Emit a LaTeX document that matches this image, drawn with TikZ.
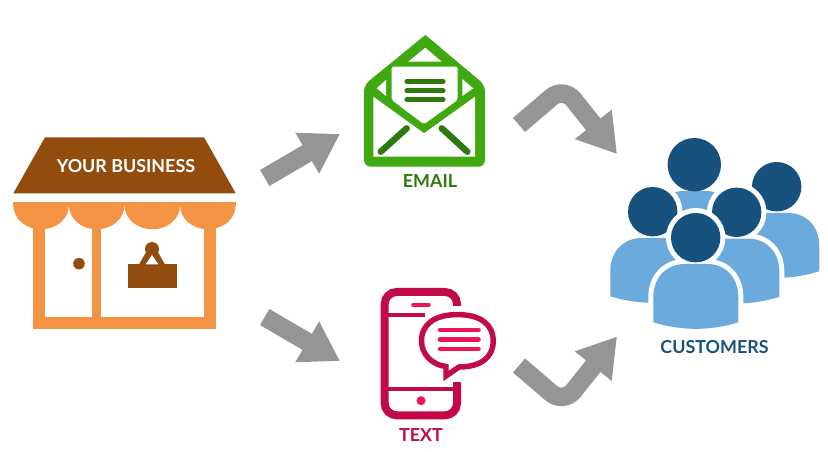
\documentclass[tikz,border=0pt]{standalone}
\usepackage{fontspec}
\setmainfont{Lato}
\usetikzlibrary{arrows.meta, positioning, calc}
\definecolor{shopbrown}{HTML}{924D0E}
\definecolor{shoporange}{HTML}{F59344}
\definecolor{mailgreen}{HTML}{3FA90F}
\definecolor{maildark}{HTML}{2B7A0B}
\definecolor{phonered}{HTML}{C2094B}
\definecolor{phonepink}{HTML}{EE1556}
\definecolor{crowddark}{HTML}{17527F}
\definecolor{crowdlight}{HTML}{6AAADC}
\definecolor{flowgray}{HTML}{959595}
\tikzset{
  flowarrow/.style={draw=flowgray, line width=13.9pt, rounded corners=12pt,
    -{Triangle[length=28.5pt,width=33.4pt]}, flowgray},
  iconlabel/.style={font=\bfseries\fontsize{13.4}{15}\selectfont},
  halo/.style={draw=white, line width=7.5pt}
}

\begin{document}
\begin{tikzpicture}[x=0.75pt,y=-0.75pt]
  \useasboundingbox (0,0) rectangle (828,452);

  % Shop roof
  \fill[shopbrown] (45,137.3) -- (204,137.3) -- (235.7,193.3) -- (13.3,193.3) -- cycle;
  \node[iconlabel, text=white] (business) at (126,166.5) {YOUR BUSINESS};

  % Shop awning
  \fill[shoporange] (13.3,201.7) rectangle (235.7,206);
  \foreach \sx in {0,55.6,111.2,166.8} {
    \fill[shoporange, xshift=\sx*0.75pt] (13.3,205) .. controls (13.3,219) and (26,229.3) .. (41.1,229.3)
      .. controls (56.2,229.3) and (68.9,219) .. (68.9,205) -- cycle;
  }

  % Shop walls
  \fill[shoporange] (32.7,222) rectangle (45,329.3);
  \fill[shoporange] (92.3,226) rectangle (100.7,329.3);
  \fill[shoporange] (204,222) rectangle (216,329.3);
  \fill[shoporange] (32.7,317.3) rectangle (216,329.3);

  % Door knob and sign
  \fill[shopbrown] (79,263.7) circle (5.8);
  \fill[shopbrown] (127.7,264.3) rectangle (176.7,287.7);
  \fill[shopbrown] (152,249) circle (7);
  \fill[shopbrown] (139,264.5) -- (149,247) -- (155,247) -- (165,264.5) -- cycle;
  \fill[white] (145.7,264.3) -- (158.3,264.3) -- (152,255) -- cycle;

  % Envelope
  \fill[mailgreen, rounded corners=5pt] (425.3,35) -- (485,85) -- (485,166.7) -- (364,166.7) -- (364,85) -- cycle;
  \fill[mailgreen] (425.3,35) -- (441,48) -- (410,48) -- cycle;
  \fill[white] (425.3,47.7) -- (441.7,61.7) -- (408.3,61.7) -- cycle;
  \fill[white] (386,80) -- (386,96) -- (376.7,88.3) -- cycle;
  \fill[white] (462.3,79) -- (462.3,96) -- (473.3,88.3) -- cycle;
  \fill[white, rounded corners=1.5pt] (391.7,66.7) -- (457.7,66.7) -- (457.7,100) -- (424,124.3) -- (391.7,100) -- cycle;
  \fill[white] (373.3,96.7) -- (424,133.3) -- (475,96.7) -- (475,156.7) -- (373.3,156.7) -- cycle;

  % Letter lines
  \foreach \ly in {81.7,90.7,99.7} {
    \draw[maildark, line width=3.4pt, line cap=round] (406.7,\ly) -- (443.3,\ly);
  }
  \draw[maildark, line width=4.8pt, line cap=round] (406.7,128.3) -- (380.7,151.7);
  \draw[maildark, line width=4.8pt, line cap=round] (441.7,128.3) -- (467.3,151.7);
  \node[iconlabel, text=maildark] (email) at (430,181.5) {EMAIL};

  % Phone
  \draw[phonered, line width=6pt, rounded corners=9pt] (384.7,292) rectangle (457,415.3);
  \fill[white] (450,306) rectangle (465,381.5);
  \draw[phonered, line width=3pt] (388,315.3) -- (425,315.3);
  \draw[phonered, line width=3pt] (388,389) -- (453,389);
  \draw[phonepink, line width=2.6pt, line cap=round] (413,305) -- (429,305);
  \fill[phonepink] (421,400.7) circle (4.5);

  % Speech bubble
  \draw[phonered, line width=4.1pt, fill=white, preaction={draw=white, line width=9pt}]
    (459,367) .. controls (480,367) and (493.2,358) .. (493.2,341)
    .. controls (493.2,324) and (480,314.6) .. (457.4,314.6)
    .. controls (435,314.6) and (421.5,324) .. (421.5,341)
    .. controls (421.5,354) and (432,365) .. (446,366.5) -- (446,376) -- cycle;
  \foreach \ly in {330,339.3,349} {
    \draw[phonepink, line width=3.4pt, line cap=round] (440,\ly) -- (478.5,\ly);
  }
  \node[iconlabel, text=phonered] (textmsg) at (421,435) {TEXT};

  % Customers, back to front
  \foreach \dx/\dy/\rad in {-1.4/-73/26.7, 81/-51/24.7, -43/-26/24.7, 41/-25.4/24.7, 0/0/24.7} {
    \begin{scope}[shift={(\dx,\dy)}]
      \def\bodypath{(653.3,322.3) -- (653.3,297) .. controls (653.3,277) and (667,264) .. (685,264)
        -- (707,264) .. controls (725,264) and (738.3,277) .. (738.3,297) -- (738.3,322.3)
        .. controls (710,331) and (682,331) .. (653.3,322.3) -- cycle}
      \draw[halo] \bodypath;
      \draw[halo] (695.7,237.7) circle (\rad);
      \fill[crowdlight] \bodypath;
      \fill[crowddark] (695.7,237.7) circle (\rad);
    \end{scope}
  }
  \node[iconlabel, text=crowddark] (customers) at (714.5,347.5) {CUSTOMERS};

  % Flow arrows
  \coordinate (shopup) at (264.7,178);
  \coordinate (mailin) at (340,134);
  \coordinate (shopdown) at (264.7,317);
  \coordinate (phonein) at (340,361);
  \coordinate (mailout) at (519,125);
  \coordinate (mailbend) at (563.4,87);
  \coordinate (crowdtop) at (617,154);
  \coordinate (phoneout) at (519,365.5);
  \coordinate (phonebend) at (563.4,403.5);
  \coordinate (crowdlow) at (617,336.5);
  \draw[flowarrow] (shopup) -- (mailin);
  \draw[flowarrow] (shopdown) -- (phonein);
  \draw[flowarrow] (mailout) -- (mailbend) -- (crowdtop);
  \draw[flowarrow] (phoneout) -- (phonebend) -- (crowdlow);
\end{tikzpicture}
\end{document}
